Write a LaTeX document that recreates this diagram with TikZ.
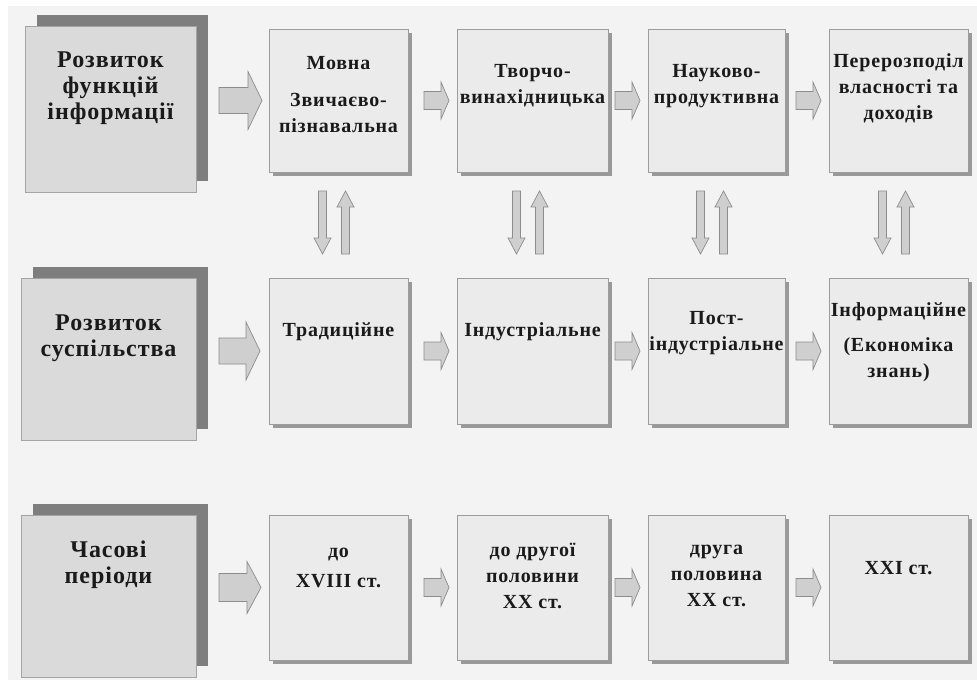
\documentclass[tikz,border=0pt]{standalone}
\usepackage{fontspec}
\setmainfont{Liberation Serif}[LetterSpace=4]
\usetikzlibrary{calc,shadows}
\definecolor{bgc}{HTML}{F3F3F3}
\definecolor{bigfill}{HTML}{DADADA}
\definecolor{bigedge}{HTML}{A4A4A4}
\definecolor{bigshadow}{HTML}{7E7E7E}
\definecolor{smallfill}{HTML}{EBEBEB}
\definecolor{smalledge}{HTML}{9C9C9C}
\definecolor{smallshadow}{HTML}{999999}
\definecolor{arrowfill}{HTML}{CFCFCF}
\definecolor{arrowedge}{HTML}{8C8C8C}
\definecolor{txt}{HTML}{1A1A1A}
\newcommand\BlockArr[6]{\draw[blockarrow, shift={#1}, rotate=#2] (0,0) -- (-#6,#5) -- (-#6,#4) -- (-#3,#4) -- (-#3,-#4) -- (-#6,-#4) -- (-#6,-#5) -- cycle;}
\begin{document}
\begin{tikzpicture}[x=1pt,y=-1pt,
  bigbox/.style={draw=bigedge, fill=bigfill, line width=0.8pt, anchor=north west, inner sep=0pt, outer sep=0pt,
    general shadow={shadow xshift=11.5pt, shadow yshift=11.5pt, fill=bigshadow, draw=none}},
  smallbox/.style={draw=smalledge, fill=smallfill, line width=0.8pt, anchor=north west, inner sep=0pt, outer sep=0pt,
    general shadow={shadow xshift=4pt, shadow yshift=-4pt, fill=smallshadow, draw=none}},
  bigtext/.style={font=\fontsize{24}{26}\selectfont\bfseries, text=txt, align=center, inner sep=0pt},
  smalltext/.style={font=\fontsize{20}{26}\selectfont\bfseries, text=txt, align=center, inner sep=0pt},
  blockarrow/.style={draw=arrowedge, fill=arrowfill, line width=0.7pt, line join=miter},
]
\useasboundingbox (0,0) rectangle (977,680);
\fill[white] (0,0) rectangle (977,680);
\fill[bgc] (8,6) rectangle (977,680);

% left header boxes
\node[bigbox, minimum width=171pt, minimum height=166pt] (F) at (25,26) {};
\node[bigbox, minimum width=175pt, minimum height=162pt] (S) at (21,278) {};
\node[bigbox, minimum width=175pt, minimum height=162pt] (P) at (21,515) {};

% row 1
\node[smallbox, minimum width=139pt, minimum height=143pt] (a1) at (269,29) {};
\node[smallbox, minimum width=151pt, minimum height=143pt] (a2) at (457,29) {};
\node[smallbox, minimum width=137pt, minimum height=143pt] (a3) at (648,29) {};
\node[smallbox, minimum width=139pt, minimum height=143pt] (a4) at (829,29) {};
% row 2
\node[smallbox, minimum width=139pt, minimum height=146pt] (b1) at (269,278) {};
\node[smallbox, minimum width=151pt, minimum height=146pt] (b2) at (457,278) {};
\node[smallbox, minimum width=137pt, minimum height=146pt] (b3) at (648,278) {};
\node[smallbox, minimum width=139pt, minimum height=146pt] (b4) at (829,278) {};
% row 3
\node[smallbox, minimum width=139pt, minimum height=145pt] (c1) at (269,515) {};
\node[smallbox, minimum width=151pt, minimum height=145pt] (c2) at (457,515) {};
\node[smallbox, minimum width=137pt, minimum height=145pt] (c3) at (648,515) {};
\node[smallbox, minimum width=139pt, minimum height=145pt] (c4) at (829,515) {};

% texts
\node[bigtext] (tF) at ($(F.north)+(0,62)$) {Розвиток\\функцій\\інформації};
\node[bigtext] (tS) at ($(S.north)+(0,60)$) {Розвиток\\суспільства};
\node[bigtext] (tP) at ($(P.north)+(0,50)$) {Часові\\періоди};

\node[smalltext] (ta1) at ($(a1.north)+(0,66)$) {Мовна\\[11pt]Звичаєво-\\пізнавальна};
\node[smalltext] (ta2) at ($(a2.north)+(0,57)$) {Творчо-\\винахідницька};
\node[smalltext] (ta3) at ($(a3.north)+(0,57)$) {Науково-\\продуктивна};
\node[smalltext] (ta4) at ($(a4.north)+(0,59)$) {Перерозподіл\\власності та\\доходів};

\node[smalltext] (tb1) at ($(b1.north)+(0,54)$) {Традиційне};
\node[smalltext] (tb2) at ($(b2.north)+(0,54)$) {Індустріальне};
\node[smalltext] (tb3) at ($(b3.north)+(0,55)$) {Пост-\\індустріальне};
\node[smalltext] (tb4) at ($(b4.north)+(0,64)$) {Інформаційне\\[9pt](Економіка\\знань)};

\node[smalltext] (tc1) at ($(c1.north)+(0,53)$) {до\\[4pt]XVIII ст.};
\node[smalltext] (tc2) at ($(c2.north)+(0,61)$) {до другої\\половини\\XX ст.};
\node[smalltext] (tc3) at ($(c3.north)+(0,61)$) {друга\\половина\\XX ст.};
\node[smalltext] (tc4) at ($(c4.north)+(0,53)$) {XXI ст.};

% big horizontal arrows
\BlockArr{($(a1.west)+(-7,0)$)}{0}{43}{13}{29}{14}
\BlockArr{($(b1.west)+(-9,0)$)}{0}{41}{13}{29}{14}
\BlockArr{($(c1.west)+(-8,0)$)}{0}{42}{14}{26}{14}
% small horizontal arrows
\foreach \r in {a,b,c}{
  \BlockArr{($(\r2.west)+(-8,0)$)}{0}{25}{9}{18.5}{8}
  \BlockArr{($(\r3.west)+(-8,0)$)}{0}{25}{9}{18.5}{8}
  \BlockArr{($(\r4.west)+(-8,0)$)}{0}{25}{9}{18.5}{8}
}
% vertical arrow pairs
\foreach \i in {1,2,3,4}{
  \BlockArr{($(b\i.north)+(-16,-24)$)}{-90}{63}{4}{8.5}{16}
  \BlockArr{($(a\i.south)+(7,19)$)}{90}{63}{4}{8.5}{16}
}
\end{tikzpicture}
\end{document}
